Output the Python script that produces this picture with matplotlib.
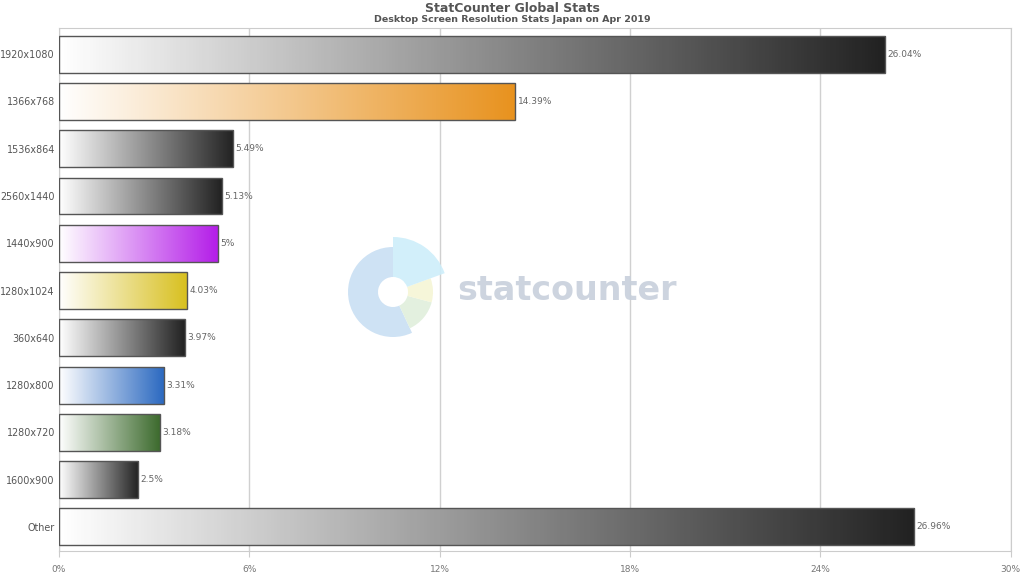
import numpy as np
import matplotlib
matplotlib.use('Agg')
import matplotlib.pyplot as plt
from matplotlib.patches import Wedge
from matplotlib.colors import LinearSegmentedColormap

# screen resolution share, Japan desktop, Apr 2019
labels = ['1920x1080', '1366x768', '1536x864', '2560x1440', '1440x900',
          '1280x1024', '360x640', '1280x800', '1280x720', '1600x900', 'Other']
values = [26.04, 14.39, 5.49, 5.13, 5.0, 4.03, 3.97, 3.31, 3.18, 2.5, 26.96]
value_text = ['26.04%', '14.39%', '5.49%', '5.13%', '5%', '4.03%', '3.97%',
              '3.31%', '3.18%', '2.5%', '26.96%']
colors = ['#222222', '#e8921e', '#222222', '#222222', '#b41ee8', '#d8c020',
          '#222222', '#2a68c0', '#3d6b2e', '#222222', '#222222']
xticks = [0, 6, 12, 18, 24, 30]

fig = plt.figure(figsize=(10.24, 5.76), dpi=100)
ax = fig.add_axes([0.0576, 0.0434, 0.9294, 0.9076])

ypos = np.arange(len(labels))
bars = ax.barh(ypos, values, height=0.78, color='none', edgecolor='#555555',
               linewidth=1.0, zorder=3)

# gradient fill for each bar, clipped to the rectangle
grad = np.linspace(0, 1, 256).reshape(1, -1)
for b, c in zip(bars, colors):
    cmap = LinearSegmentedColormap.from_list('g', ['#ffffff', c])
    x0, y0 = b.get_x(), b.get_y()
    w, h = b.get_width(), b.get_height()
    im = ax.imshow(grad, cmap=cmap, aspect='auto', extent=(x0, x0 + w, y0 + h, y0),
                   zorder=2, interpolation='bicubic')
    im.set_clip_path(b)

for y, v, t in zip(ypos, values, value_text):
    ax.text(v + 0.08, y, t, va='center', ha='left', fontsize=6.5, color='#666666', zorder=4)

ax.set_xlim(0, 30)
ax.set_ylim(10.51, -0.55)
ax.set_xticks(xticks)
ax.set_xticklabels([f'{t}%' for t in xticks], fontsize=6.5, color='#777777')
ax.set_yticks(ypos)
ax.set_yticklabels(labels, fontsize=6.9, color='#555555')
ax.tick_params(axis='y', length=0, pad=3)
ax.tick_params(axis='x', length=4, color='#cccccc', pad=6)
ax.xaxis.grid(True, color='#d0d0d0', linewidth=1, zorder=0)
ax.set_axisbelow(True)
for s in ax.spines.values():
    s.set_color('#cccccc')

fig.text(0.5, 0.985, 'StatCounter Global Stats', ha='center', va='center',
         fontsize=9, fontweight='bold', color='#555555')
fig.text(0.5, 0.966, 'Desktop Screen Resolution Stats Japan on Apr 2019', ha='center',
         va='center', fontsize=6.8, fontweight='bold', color='#555555')

# statcounter watermark (pixel coords, y up)
wm = fig.add_axes([0, 0, 1, 1], zorder=5)
wm.set_xlim(0, 1024)
wm.set_ylim(0, 576)
wm.axis('off')
wm.patch.set_alpha(0)
cx, cy = 393, 576 - 292
wm.add_patch(Wedge((cx, cy), 45, 90, 295, width=30, color='#c9dff3', alpha=0.9, lw=0))
wm.add_patch(Wedge((cx, cy), 40, 295, 345, width=25, color='#e0efdc', alpha=0.9, lw=0))
wm.add_patch(Wedge((cx, cy), 40, 345, 20, width=25, color='#f5f5d5', alpha=0.9, lw=0))
wm.add_patch(Wedge((cx, cy), 55, 20, 90, width=40, color='#cdeefa', alpha=0.9, lw=0))
wm.text(457, 576 - 290, 'statcounter', fontsize=24, fontweight='bold', color='#c8d0dc',
        va='center', ha='left', alpha=0.9)

fig.savefig('out.png', dpi=100)
